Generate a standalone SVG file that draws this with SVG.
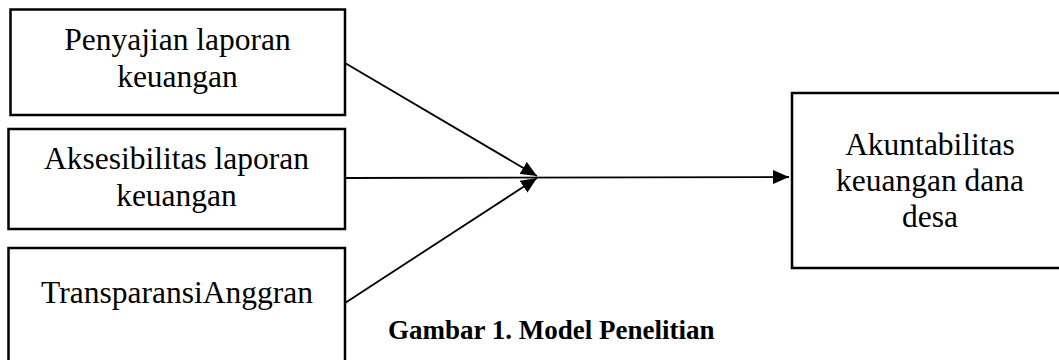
<svg xmlns="http://www.w3.org/2000/svg" width="1059" height="360" viewBox="0 0 1059 360">
<style>
.box{fill:#fff;stroke:#000;stroke-width:2.5}
.t{font-family:"Liberation Serif","Times New Roman",serif;font-size:31.5px;fill:#000;text-anchor:middle}
.cap{font-family:"Liberation Serif","Times New Roman",serif;font-size:27px;font-weight:bold;fill:#000}
.ln{stroke:#000;stroke-width:1.8;fill:none}
</style>
<defs>
<marker id="ah" markerUnits="userSpaceOnUse" markerWidth="18" markerHeight="14" refX="16" refY="7" orient="auto">
<path d="M0,0 L16,7 L0,14 Z" fill="#000"/>
</marker>
</defs>
<rect width="1059" height="360" fill="#fff"/>
<g id="node-penyajian">
<rect class="box" x="10.5" y="9.5" width="334.5" height="105.5"/>
<text class="t" x="177.5" y="50">Penyajian laporan</text>
<text class="t" x="177.5" y="87">keuangan</text>
</g>
<g id="node-aksesibilitas">
<rect class="box" x="8.5" y="129" width="336.5" height="100"/>
<text class="t" x="176.5" y="169">Aksesibilitas laporan</text>
<text class="t" x="176.5" y="206">keuangan</text>
</g>
<g id="node-transparansi">
<rect class="box" x="8.5" y="248" width="336.5" height="130"/>
<text class="t" x="177" y="303">TransparansiAnggran</text>
</g>
<g id="node-akuntabilitas">
<rect class="box" x="792" y="93" width="300" height="175"/>
<text class="t" x="930" y="155">Akuntabilitas</text>
<text class="t" x="930" y="191">keuangan dana</text>
<text class="t" x="930" y="227">desa</text>
</g>
<g id="connectors">
<line class="ln" x1="345" y1="63" x2="537" y2="176" marker-end="url(#ah)"/>
<line class="ln" x1="345" y1="303" x2="537" y2="178" marker-end="url(#ah)"/>
<line class="ln" x1="345" y1="178" x2="789" y2="177" marker-end="url(#ah)"/>
</g>
<text class="cap" x="388" y="339">Gambar 1. Model Penelitian</text>
</svg>
